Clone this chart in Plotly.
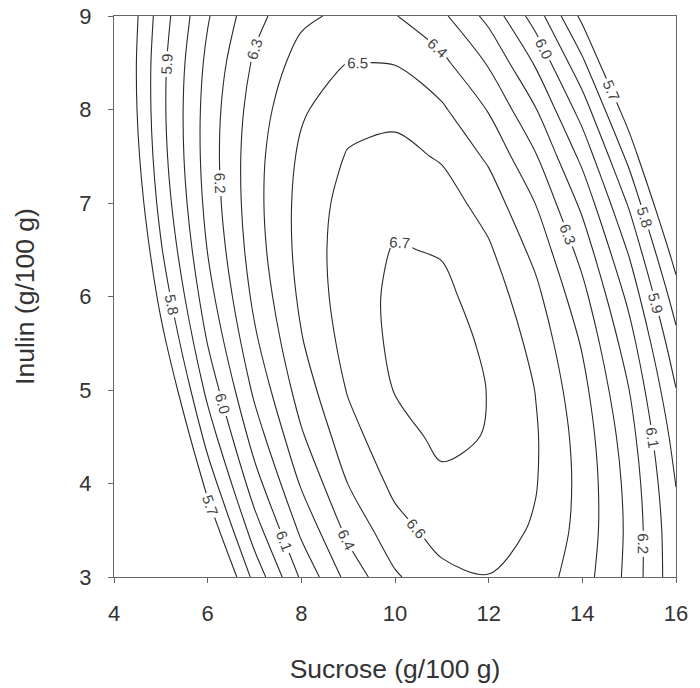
import plotly.graph_objects as go

# Sucrose (x) and Inulin (y) grid nodes
sucrose = [4, 5, 6, 7, 8, 9, 10, 11, 12, 13, 14, 15, 16]
inulin = [3.0, 3.5, 4.0, 4.5, 5.0, 5.5, 6.0, 6.5, 7.0, 7.5, 8.0, 8.5, 9.0]

# Response values estimated from the reference contour map (rows = inulin, cols = sucrose)
response = [
    [4.588, 5.068, 5.483, 5.832, 6.116, 6.334, 6.487, 6.575, 6.597, 6.554, 6.445, 6.271, 6.032],
    [4.751, 5.217, 5.617, 5.952, 6.222, 6.426, 6.564, 6.637, 6.645, 6.588, 6.465, 6.276, 6.023],
    [4.899, 5.351, 5.736, 6.057, 6.312, 6.502, 6.626, 6.685, 6.678, 6.606, 6.469, 6.266, 5.998],
    [5.032, 5.469, 5.840, 6.146, 6.387, 6.562, 6.672, 6.717, 6.696, 6.610, 6.458, 6.241, 5.958],
    [5.150, 5.572, 5.929, 6.221, 6.447, 6.608, 6.704, 6.734, 6.698, 6.598, 6.431, 6.200, 5.903],
    [5.252, 5.660, 6.003, 6.280, 6.492, 6.638, 6.720, 6.735, 6.686, 6.570, 6.390, 6.144, 5.833],
    [5.339, 5.733, 6.061, 6.324, 6.521, 6.654, 6.720, 6.722, 6.658, 6.528, 6.333, 6.073, 5.747],
    [5.411, 5.790, 6.104, 6.353, 6.536, 6.653, 6.706, 6.693, 6.614, 6.470, 6.261, 5.986, 5.646],
    [5.468, 5.832, 6.132, 6.366, 6.535, 6.638, 6.676, 6.649, 6.556, 6.398, 6.174, 5.885, 5.530],
    [5.509, 5.859, 6.145, 6.364, 6.519, 6.608, 6.631, 6.589, 6.482, 6.309, 6.071, 5.768, 5.399],
    [5.535, 5.871, 6.142, 6.347, 6.487, 6.562, 6.571, 6.515, 6.393, 6.206, 5.954, 5.636, 5.253],
    [5.546, 5.868, 6.124, 6.315, 6.441, 6.501, 6.496, 6.425, 6.289, 6.088, 5.821, 5.489, 5.091],
    [5.542, 5.849, 6.091, 6.268, 6.379, 6.425, 6.405, 6.320, 6.170, 5.954, 5.673, 5.326, 4.914],
]

x_ticks = [4, 6, 8, 10, 12, 14, 16]
y_ticks = [3, 4, 5, 6, 7, 8, 9]

FONT = "Liberation Sans, Arial, sans-serif"

fig = go.Figure(
    go.Contour(
        x=sucrose,
        y=inulin,
        z=response,
        contours=dict(
            start=5.7, end=6.7, size=0.1,
            coloring="lines",
            showlabels=True,
            labelformat=".1f",
            labelfont=dict(family=FONT, size=15, color="#444"),
        ),
        colorscale=[[0, "#2a2a2a"], [1, "#2a2a2a"]],
        showscale=False,
        line=dict(width=1.1, smoothing=0.9),
        hoverinfo="skip",
    )
)

axis_common = dict(
    showline=True, mirror=True, linecolor="#666", linewidth=1.2,
    showgrid=False, zeroline=False, automargin=False,
    ticks="outside", ticklen=5, tickcolor="#666", tickwidth=1,
    tickfont=dict(family=FONT, size=22, color="#333"),
    ticklabeloverflow="allow",
)

fig.update_layout(
    width=700, height=688,
    margin=dict(l=114, r=24, t=16, b=111),
    paper_bgcolor="white", plot_bgcolor="white",
    xaxis=dict(
        range=[4, 16], tickvals=x_ticks, ticklabelstandoff=11,
        title=dict(text="Sucrose (g/100 g)", font=dict(family=FONT, size=26.5, color="#333"), standoff=34),
        **axis_common,
    ),
    yaxis=dict(
        range=[3, 9], tickvals=y_ticks, ticklabelstandoff=12,
        title=dict(text="Inulin (g/100 g)", font=dict(family=FONT, size=26.5, color="#333"), standoff=36),
        **axis_common,
    ),
)

# remove the default page margin so the 700x688 figure fills the window exactly
fig.write_html(
    "out.html",
    config={"displayModeBar": False},
    post_script="document.body.style.margin='0px';document.body.style.overflow='hidden';",
)
